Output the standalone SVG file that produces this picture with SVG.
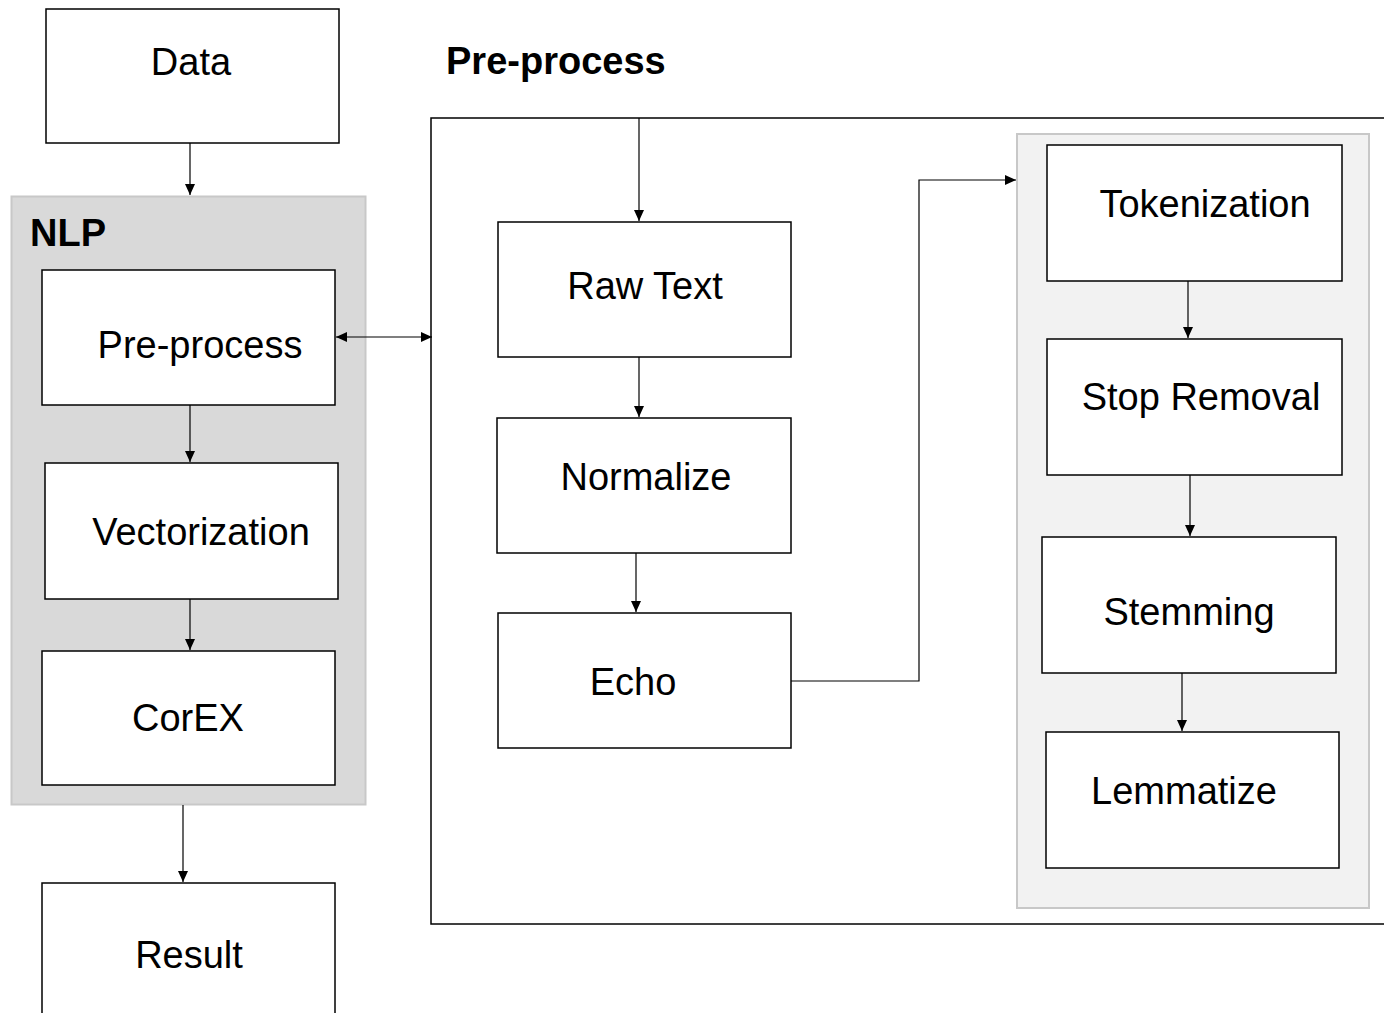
<svg xmlns="http://www.w3.org/2000/svg" width="1384" height="1013" viewBox="0 0 1384 1013">
<style>
.box{fill:#fff;stroke:#000;stroke-width:1.5}
.lbl{font-family:"Liberation Sans",Arial,sans-serif;font-size:38px;fill:#000;text-anchor:middle}
.ttl{font-family:"Liberation Sans",Arial,sans-serif;font-size:38px;font-weight:bold;fill:#000}
.con{fill:none;stroke:#000;stroke-width:1.2}
</style>
<defs>
<marker id="ah" markerUnits="userSpaceOnUse" markerWidth="12" markerHeight="10" refX="11" refY="5" orient="auto-start-reverse">
<path d="M0,0 L11,5 L0,10 Z" fill="#000"/>
</marker>
</defs>
<rect width="1384" height="1013" fill="#fff"/>
<g id="nlp-group">
<rect x="11.5" y="196.5" width="354" height="608" fill="#d9d9d9" stroke="#c8c8c8" stroke-width="2"/>
<text class="ttl" x="30" y="246">NLP</text>
</g>
<g id="preprocess-group">
<rect x="431" y="118" width="960" height="806" fill="none" stroke="#000" stroke-width="1.5"/>
<text class="ttl" x="446" y="74">Pre-process</text>
</g>
<g id="steps-group">
<rect x="1017" y="134" width="352" height="774" fill="#f2f2f2" stroke="#c8c8c8" stroke-width="2"/>
</g>
<g id="data"><rect class="box" x="46" y="9" width="293" height="134"/><text class="lbl" x="191" y="75">Data</text></g>
<g id="preprocess"><rect class="box" x="42" y="270" width="293" height="135"/><text class="lbl" x="200" y="358">Pre-process</text></g>
<g id="vectorization"><rect class="box" x="45" y="463" width="293" height="136"/><text class="lbl" x="201" y="545">Vectorization</text></g>
<g id="corex"><rect class="box" x="42" y="651" width="293" height="134"/><text class="lbl" x="188" y="731">CorEX</text></g>
<g id="result"><rect class="box" x="42" y="883" width="293" height="140"/><text class="lbl" x="189" y="968">Result</text></g>
<g id="rawtext"><rect class="box" x="498" y="222" width="293" height="135"/><text class="lbl" x="645" y="299">Raw Text</text></g>
<g id="normalize"><rect class="box" x="497" y="418" width="294" height="135"/><text class="lbl" x="646" y="490">Normalize</text></g>
<g id="echo"><rect class="box" x="498" y="613" width="293" height="135"/><text class="lbl" x="633" y="695">Echo</text></g>
<g id="tokenization"><rect class="box" x="1047" y="145" width="295" height="136"/><text class="lbl" x="1205" y="217">Tokenization</text></g>
<g id="stopremoval"><rect class="box" x="1047" y="339" width="295" height="136"/><text class="lbl" x="1201" y="410">Stop Removal</text></g>
<g id="stemming"><rect class="box" x="1042" y="537" width="294" height="136"/><text class="lbl" x="1189" y="625">Stemming</text></g>
<g id="lemmatize"><rect class="box" x="1046" y="732" width="293" height="136"/><text class="lbl" x="1184" y="804">Lemmatize</text></g>
<g id="connectors">
<path class="con" d="M190,143 V195" marker-end="url(#ah)"/>
<path class="con" d="M190,405 V462" marker-end="url(#ah)"/>
<path class="con" d="M190,599 V650" marker-end="url(#ah)"/>
<path class="con" d="M183,805 V882" marker-end="url(#ah)"/>
<path class="con" d="M336,337 H432" marker-start="url(#ah)" marker-end="url(#ah)"/>
<path class="con" d="M639,118 V221" marker-end="url(#ah)"/>
<path class="con" d="M639,357 V417" marker-end="url(#ah)"/>
<path class="con" d="M636,553 V612" marker-end="url(#ah)"/>
<path class="con" d="M791,681 H919 V180 H1016" marker-end="url(#ah)"/>
<path class="con" d="M1188,281 V338" marker-end="url(#ah)"/>
<path class="con" d="M1190,475 V536" marker-end="url(#ah)"/>
<path class="con" d="M1182,673 V731" marker-end="url(#ah)"/>
</g>
</svg>
